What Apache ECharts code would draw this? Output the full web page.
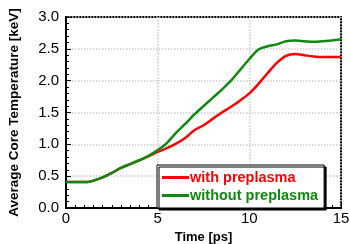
<!DOCTYPE html>
<html>
<head>
<meta charset="utf-8">
<script src="https://cdn.jsdelivr.net/npm/echarts@6/dist/echarts.min.js"></script>
<style>
  html, body { margin: 0; padding: 0; background: #fff; }
  #main { width: 350px; height: 244px; }
</style>
</head>
<body>
<div id="main"></div>
<script>
// 时间 [ps]
var times = [0, 1.2, 1.5, 2, 2.5, 3, 3.5, 4, 4.5, 5, 5.5, 6, 6.5, 7, 7.5, 8, 8.5, 9, 9.5, 10,
  10.5, 11, 11.5, 12, 12.5, 13, 13.5, 14, 14.5, 15];
// with preplasma
var withPre = [0.41, 0.41, 0.43, 0.48, 0.55, 0.63, 0.69, 0.75, 0.81, 0.88, 0.94, 1.01, 1.1, 1.22, 1.3,
  1.4, 1.5, 1.59, 1.69, 1.8, 1.95, 2.12, 2.28, 2.39, 2.42, 2.4, 2.38, 2.37, 2.37, 2.37];
// without preplasma
var withoutPre = [0.41, 0.41, 0.43, 0.48, 0.55, 0.63, 0.69, 0.75, 0.82, 0.91, 1.02, 1.18, 1.32, 1.47, 1.6,
  1.73, 1.86, 2.0, 2.17, 2.34, 2.49, 2.54, 2.57, 2.62, 2.63, 2.62, 2.61, 2.62, 2.63, 2.65];

var seriesNames = ['with preplasma', 'without preplasma'];
var seriesColors = ['#ff0000', '#118811'];

function pairs(xs, ys) {
  var out = [];
  for (var i = 0; i < xs.length; i++) {
    out.push([xs[i], ys[i]]);
  }
  return out;
}

var font = 'Liberation Sans';

// 主坐标轴：标签、网格线，不画刻度
function mainAxis(isX) {
  return {
    type: 'value',
    position: isX ? 'bottom' : 'left',
    min: 0,
    max: isX ? 15 : 3,
    interval: isX ? 5 : 0.5,
    name: isX ? 'Time [ps]' : 'Average Core Temperature [keV]',
    nameLocation: 'middle',
    nameGap: isX ? 20 : 45,
    nameTextStyle: { fontFamily: font, fontWeight: 'bold', fontSize: isX ? 13 : 13.5, color: '#000' },
    axisLine: { show: true, onZero: false, lineStyle: { color: '#000', width: 2 } },
    axisTick: { show: false },
    minorTick: { show: false },
    splitLine: { show: true, lineStyle: { color: '#cccccc', type: 'dotted', width: 1.5 } },
    axisLabel: {
      fontFamily: font,
      fontSize: 15,
      color: '#000',
      margin: isX ? 3 : 7,
      formatter: function(v) { return isX ? String(v) : v.toFixed(1); }
    }
  };
}

// 刻度轴：top/right 的朝外刻度借 onZero 挪到底边/左边，就成了朝里的刻度
function tickAxis(isX, pos) {
  return {
    type: 'value',
    position: pos,
    min: 0,
    max: isX ? 15 : 3,
    interval: isX ? 5 : 0.5,
    axisLine: { show: true, lineStyle: { color: '#000', width: 2 } },
    axisTick: { show: true, length: 5, lineStyle: { color: '#000', width: 1 } },
    minorTick: { show: true, splitNumber: isX ? 10 : 5, length: 3, lineStyle: { color: '#000', width: 1 } },
    splitLine: { show: false },
    axisLabel: { show: true, fontSize: 8, color: 'rgba(0,0,0,0)' }
  };
}

var chart = echarts.init(document.getElementById('main'));
var option = {
  animation: false,
  grid: {
    left: 66, right: 9, top: 17, bottom: 36,
    outerBoundsMode: 'none',
    show: true, borderColor: '#000', borderWidth: 2, backgroundColor: 'transparent'
  },
  xAxis: [mainAxis(true), tickAxis(true, 'top')],
  yAxis: [mainAxis(false), tickAxis(false, 'right')],
  legend: {
    orient: 'vertical',
    left: 157,
    top: 165,
    padding: [5, 6, 5, 5],
    itemGap: 3,
    itemWidth: 27,
    itemHeight: 3,
    icon: 'rect',
    backgroundColor: '#fff',
    borderColor: '#000',
    borderWidth: 1,
    shadowColor: '#000',
    shadowOffsetX: 2,
    shadowOffsetY: 2,
    shadowBlur: 0,
    textStyle: { fontFamily: font, fontWeight: 'bold', fontSize: 14.5, padding: [0, 0, 0, -4] },
    data: [
      { name: seriesNames[0], textStyle: { color: seriesColors[0] } },
      { name: seriesNames[1], textStyle: { color: seriesColors[1] } }
    ]
  },
  series: [
    {
      name: seriesNames[0],
      type: 'line',
      xAxisIndex: 0,
      yAxisIndex: 0,
      symbol: 'none',
      smooth: 0.3,
      data: pairs(times, withPre),
      lineStyle: { color: seriesColors[0], width: 2.5 },
      itemStyle: { color: seriesColors[0] }
    },
    {
      name: seriesNames[1],
      type: 'line',
      xAxisIndex: 0,
      yAxisIndex: 0,
      symbol: 'none',
      smooth: 0.3,
      data: pairs(times, withoutPre),
      lineStyle: { color: seriesColors[1], width: 2.5 },
      itemStyle: { color: seriesColors[1] }
    }
  ]
};
chart.setOption(option);
</script>
</body>
</html>
